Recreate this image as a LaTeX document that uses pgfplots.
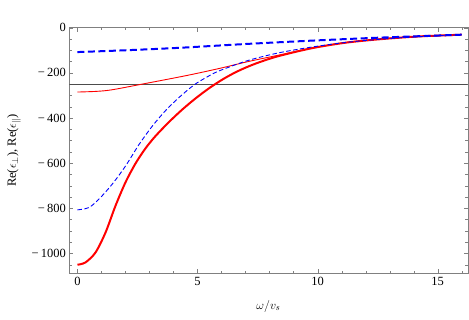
\documentclass[border=0pt]{standalone}
\usepackage{pgfplots}
\pgfplotsset{compat=1.18}
\usepackage{fontspec}
\setmainfont{Liberation Serif}

\begin{document}
\begin{tikzpicture}
\begin{axis}[
    scale only axis,
    width=398.4bp,
    height=245.6bp,
    xmin=-0.34, xmax=16.25,
    ymin=-1088, ymax=0,
    axis line style={gray},
    tick style={gray},
    tick align=inside,
    major tick length=4bp,
    minor tick length=2.5bp,
    xtick={0,5,10,15},
    xticklabels={0,5,10,15},
    minor xtick={1,2,3,4,6,7,8,9,11,12,13,14,16},
    ytick={-1000,-800,-600,-400,-200,0},
    yticklabels={−\,1000,−\,800,−\,600,−\,400,−\,200,0},
    minor ytick={-1050,-950,-900,-850,-750,-700,-650,-550,-500,-450,-350,-300,-250,-150,-100,-50},
    tick label style={font={\fontsize{12.5bp}{15bp}\selectfont}, black},
    xlabel={$\omega/v_s$},
    ylabel={Re($\epsilon_{\perp}$), Re($\epsilon_{\parallel}$)},
    label style={font={\fontsize{12.5bp}{15bp}\selectfont}},
    xlabel style={yshift=-8bp},
    ylabel style={yshift=4bp},
]

% horizontal reference line
\addplot[black!70, line width=0.6pt] coordinates {(-0.34,-250) (16.25,-250)};

% thick red
\addplot[red, line width=2pt, smooth] coordinates {
(0,-1050) (0.33,-1040) (0.75,-996) (1.17,-907) (1.58,-790) (2.0,-685)
(2.42,-601) (2.83,-535) (3.25,-480) (3.81,-418) (4.36,-363) (4.92,-313)
(5.47,-269) (6.0,-232) (6.5,-202) (7.0,-177) (7.6,-152) (8.4,-125)
(9.8,-90) (11.2,-66) (12.6,-51) (14.0,-40) (15.0,-35) (16.0,-31)
};

% thin red
\addplot[red, line width=0.9pt, smooth] coordinates {
(0,-285) (0.8,-282) (1.44,-275) (2.69,-250) (4.54,-212) (5.93,-180)
(7.11,-150) (8.4,-121) (9.8,-89) (11.2,-65) (12.6,-50) (14.0,-40) (16.0,-31)
};

% thin dashed blue
\addplot[blue, line width=0.9pt, smooth, dash pattern=on 4.5bp off 2.5bp] coordinates {
(0,-807) (0.47,-797) (0.89,-760) (1.44,-694) (2.0,-613) (2.56,-518)
(3.11,-437) (3.67,-367) (4.22,-310) (4.85,-254) (5.4,-218) (5.93,-190)
(7.11,-145) (8.4,-111) (9.8,-85) (11.2,-65) (12.6,-51) (14.0,-41) (16.0,-31)
};

% thick dashed blue
\addplot[blue, line width=2pt, smooth, dash pattern=on 7bp off 3.5bp] coordinates {
(0,-108) (2,-100) (4.26,-89) (7.04,-72) (9.82,-57) (12.6,-44) (16,-31)
};

\end{axis}
\path (current axis.south west) ++(-69.3bp,-46.7bp) coordinate (bbA);
\path (current axis.north east) ++(1.3bp,27.7bp) coordinate (bbB);
\useasboundingbox (bbA) rectangle (bbB);
\end{tikzpicture}
\end{document}
